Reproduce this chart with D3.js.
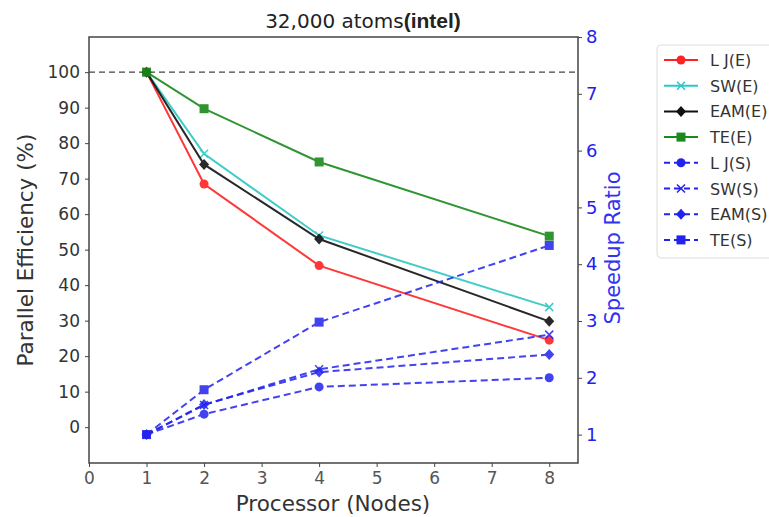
<html>
<head>
<script src="https://cdn.jsdelivr.net/npm/d3@7"></script>
<style>
	body { margin: 0; background: #fff; }
	text { font-family: "DejaVu Sans", sans-serif; }
</style>
</head>
<body>
<script>
	var nodes = [1, 2, 4, 8];
	var xTicks = [0, 1, 2, 3, 4, 5, 6, 7, 8];
	var effTicks = [0, 10, 20, 30, 40, 50, 60, 70, 80, 90, 100];
	var spTicks = [1, 2, 3, 4, 5, 6, 7, 8];

	// parallel efficiency (%)
	var ljE = [100, 68.5, 45.5, 24.5];
	var swE = [100, 77, 54, 33.8];
	var eamE = [100, 74, 53, 29.8];
	var teE = [100, 89.7, 74.7, 53.8];

	// speedup ratio
	var ljS = [1, 1.36, 1.84, 2.0];
	var swS = [1, 1.52, 2.15, 2.76];
	var eamS = [1, 1.53, 2.1, 2.41];
	var teS = [1, 1.79, 2.98, 4.33];

	var series = [
		{ name: "L J(E)", vals: ljE, axis: "e", color: "#f22", marker: "o" },
		{ name: "SW(E)", vals: swE, axis: "e", color: "#2cc6c6", marker: "x" },
		{ name: "EAM(E)", vals: eamE, axis: "e", color: "#111", marker: "D" },
		{ name: "TE(E)", vals: teE, axis: "e", color: "#1a8a1a", marker: "s" },
		{ name: "L J(S)", vals: ljS, axis: "s", color: "#2222ee", marker: "o" },
		{ name: "SW(S)", vals: swS, axis: "s", color: "#2222ee", marker: "x" },
		{ name: "EAM(S)", vals: eamS, axis: "s", color: "#2222ee", marker: "D" },
		{ name: "TE(S)", vals: teS, axis: "s", color: "#2222ee", marker: "s" }
	];

	var width = 769, height = 517;
	var m = { left: 89, top: 37, right: 578, bottom: 463 };

	var svg = d3.select("body").append("svg")
		.attr("width", width)
		.attr("height", height);

	var x = d3.scaleLinear().domain([0, 8.5]).range([m.left, m.right]);
	var yE = d3.scaleLinear().domain([-10.1, 109.9]).range([m.bottom, m.top]);
	var yS = d3.scaleLinear().domain([0.5, 8]).range([m.bottom, m.top]);

	// reference line at 100%
	svg.append("line")
		.attr("x1", m.left).attr("x2", m.right)
		.attr("y1", yE(100)).attr("y2", yE(100))
		.attr("stroke", "#444").attr("stroke-width", 1.2)
		.attr("stroke-dasharray", "6,4");

	function drawMarker(g, kind, cx, cy, color) {
		if (kind == "o") {
			g.append("circle").attr("cx", cx).attr("cy", cy).attr("r", 4.5).attr("fill", color);
		} else if (kind == "s") {
			g.append("rect").attr("x", cx - 4.5).attr("y", cy - 4.5).attr("width", 9).attr("height", 9).attr("fill", color);
		} else if (kind == "D") {
			g.append("path").attr("d", "M" + cx + "," + (cy - 5.5) + "L" + (cx + 5) + "," + cy + "L" + cx + "," + (cy + 5.5) + "L" + (cx - 5) + "," + cy + "Z").attr("fill", color);
		} else {
			g.append("path").attr("d", "M" + (cx - 4) + "," + (cy - 4) + "L" + (cx + 4) + "," + (cy + 4) + "M" + (cx - 4) + "," + (cy + 4) + "L" + (cx + 4) + "," + (cy - 4))
				.attr("stroke", color).attr("stroke-width", 1.5).attr("fill", "none");
		}
	}

	series.forEach(function (s) {
		var ys = s.axis == "e" ? yE : yS;
		var line = d3.line()
			.x(function (d, i) { return x(nodes[i]); })
			.y(function (d) { return ys(d); });
		var g = svg.append("g").attr("opacity", s.axis == "s" ? 0.85 : 0.9);
		g.append("path")
			.datum(s.vals)
			.attr("d", line)
			.attr("fill", "none")
			.attr("stroke", s.color)
			.attr("stroke-width", 2)
			.attr("stroke-dasharray", s.axis == "s" ? "7,4" : null);
		s.vals.forEach(function (v, i) {
			drawMarker(g, s.marker, x(nodes[i]), ys(v), s.color);
		});
	});

	// frame
	svg.append("rect")
		.attr("x", m.left).attr("y", m.top)
		.attr("width", m.right - m.left).attr("height", m.bottom - m.top)
		.attr("fill", "none").attr("stroke", "#444").attr("stroke-width", 1.5);

	var xAxis = svg.append("g")
		.attr("transform", "translate(0," + m.bottom + ")")
		.call(d3.axisBottom(x).tickValues(xTicks).tickSize(4).tickPadding(5));
	var lAxis = svg.append("g")
		.attr("transform", "translate(" + m.left + ",0)")
		.call(d3.axisLeft(yE).tickValues(effTicks).tickSize(4).tickPadding(5));
	var rAxis = svg.append("g")
		.attr("transform", "translate(" + m.right + ",0)")
		.call(d3.axisRight(yS).tickValues(spTicks).tickSize(4).tickPadding(4));

	[xAxis, lAxis, rAxis].forEach(function (a) {
		a.select(".domain").remove();
		a.selectAll("line").attr("stroke", "#444");
		a.selectAll("text").attr("font-size", 17).attr("fill", "#333").attr("font-family", "DejaVu Sans");
	});
	xAxis.selectAll("text").attr("fill", "#555");
	rAxis.selectAll("text").attr("fill", "#2222ee").attr("font-size", 18);

	// titles
	var title = svg.append("text")
		.attr("x", 363).attr("y", 28)
		.attr("text-anchor", "middle")
		.attr("font-size", 20).attr("fill", "#222");
	title.append("tspan").text("32,000 atoms");
	title.append("tspan").attr("font-weight", "bold").attr("font-family", "Liberation Sans").attr("font-size", 21).text("(intel)");

	svg.append("text")
		.attr("x", 333).attr("y", 511)
		.attr("text-anchor", "middle")
		.attr("font-size", 21.5).attr("fill", "#333")
		.text("Processor (Nodes)");

	svg.append("text")
		.attr("transform", "translate(33,250) rotate(-90)")
		.attr("text-anchor", "middle")
		.attr("font-size", 21.5).attr("fill", "#333")
		.text("Parallel Efficiency (%)");

	svg.append("text")
		.attr("transform", "translate(620,248) rotate(-90)")
		.attr("text-anchor", "middle")
		.attr("font-size", 21).attr("fill", "#3333ee")
		.text("Speedup Ratio");

	// legend
	var leg = svg.append("g");
	leg.append("rect")
		.attr("x", 657).attr("y", 45).attr("width", 125).attr("height", 213)
		.attr("rx", 4).attr("fill", "#fff").attr("stroke", "#ddd");
	series.forEach(function (s, i) {
		var ly = 60 + i * 25.7;
		var g = leg.append("g");
		g.append("line")
			.attr("x1", 664).attr("x2", 698).attr("y1", ly).attr("y2", ly)
			.attr("stroke", s.color).attr("stroke-width", 2)
			.attr("stroke-dasharray", s.axis == "s" ? "6,4" : null);
		drawMarker(g, s.marker, 681, ly, s.color);
		g.append("text")
			.attr("x", 710).attr("y", ly + 6)
			.attr("font-size", 16).attr("fill", "#333")
			.text(s.name);
	});
</script>
</body>
</html>
